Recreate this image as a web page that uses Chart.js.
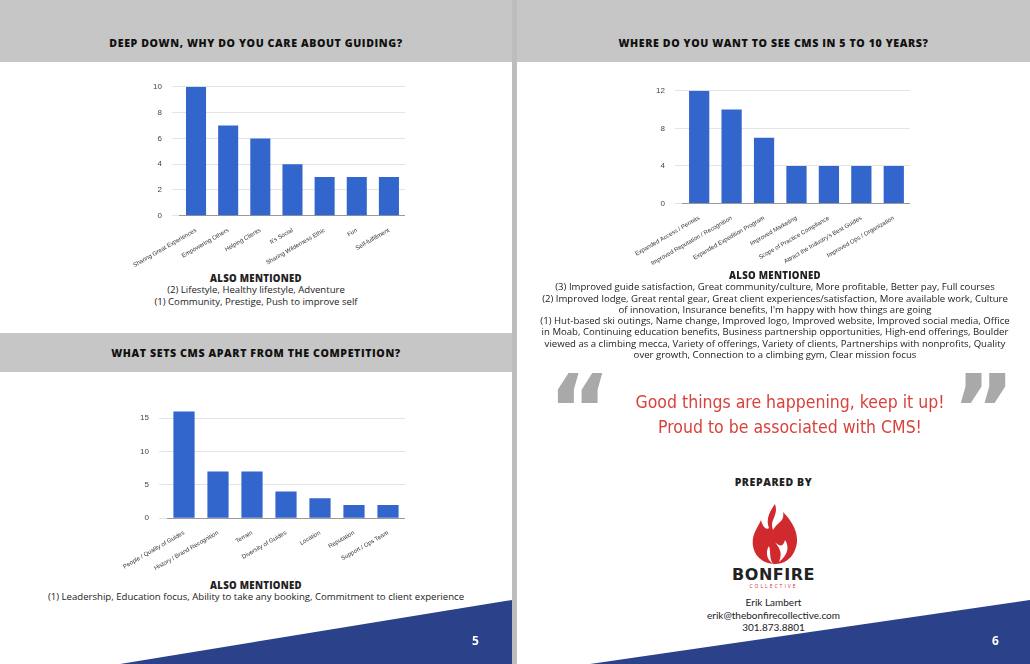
<!DOCTYPE html>
<html><head><meta charset="utf-8">
<script src="https://cdn.jsdelivr.net/npm/chart.js@4"></script>
<style>
body{margin:0;width:1030px;height:664px;position:relative;overflow:hidden;background:#fff;font-family:"Open Sans",sans-serif;color:#222}
.abs{position:absolute}
.hdr{position:absolute;background:#c6c6c6;font-family:"Open Sans";font-weight:800;font-size:10.6px;letter-spacing:0.6px;text-align:center;color:#111}
.txt{position:absolute;font-size:9.6px;text-align:center;line-height:11.3px}
.txt b{font-weight:800;letter-spacing:0.3px}
canvas{position:absolute}
</style></head><body>
<div class="abs" style="left:512px;top:0;width:5px;height:664px;background:#bdbdbd"></div>
<div class="hdr" style="left:0;top:0;width:512px;height:62px;line-height:86px">DEEP DOWN, WHY DO YOU CARE ABOUT GUIDING?</div>
<div class="hdr" style="left:517px;top:0;width:513px;height:62px;line-height:86px">WHERE DO YOU WANT TO SEE CMS IN 5 TO 10 YEARS?</div>
<div class="hdr" style="left:0;top:333px;width:512px;height:39px;line-height:40px">WHAT SETS CMS APART FROM THE COMPETITION?</div>

<div class="abs" style="left:128px;top:72px;width:277px;height:200px"><canvas id="c1"></canvas></div>
<div class="abs" style="left:630px;top:76px;width:280px;height:194px"><canvas id="c2"></canvas></div>
<div class="abs" style="left:118px;top:390px;width:287px;height:185px"><canvas id="c3"></canvas></div>

<div class="txt" style="left:0;top:273px;width:512px"><b>ALSO MENTIONED</b><br>(2) Lifestyle, Healthy lifestyle, Adventure<br>(1) Community, Prestige, Push to improve self</div>
<div class="txt" style="left:0;top:580px;width:512px"><b>ALSO MENTIONED</b><br>(1) Leadership, Education focus, Ability to take any booking, Commitment to client experience</div>
<div class="txt" style="left:540px;top:270px;width:470px"><b>ALSO MENTIONED</b><br>(3) Improved guide satisfaction, Great community/culture, More profitable, Better pay, Full courses<br>(2) Improved lodge, Great rental gear, Great client experiences/satisfaction, More available work, Culture of innovation, Insurance benefits, I'm happy with how things are going<br>(1) Hut-based ski outings, Name change, Improved logo, Improved website, Improved social media, Office in Moab, Continuing education benefits, Business partnership opportunities, High-end offerings, Boulder viewed as a climbing mecca, Variety of offerings, Variety of clients, Partnerships with nonprofits, Quality over growth, Connection to a climbing gym, Clear mission focus</div>

<div class="abs" style="left:548px;top:362px;font-size:96px;line-height:96px;color:#a9a9a9;font-family:'DejaVu Sans';font-weight:bold">&ldquo;</div>
<div class="abs" style="left:952px;top:362px;font-size:96px;line-height:96px;color:#a9a9a9;font-family:'DejaVu Sans';font-weight:bold">&rdquo;</div>
<div class="abs" style="left:600px;top:390px;width:380px;text-align:center;color:#d8413c;font-family:'DejaVu Sans Condensed','Roboto Condensed','Roboto';font-stretch:condensed;font-size:17.5px;line-height:25px">Good things are happening, keep it up!<br>Proud to be associated with CMS!</div>

<div class="abs" style="left:517px;top:475px;width:513px;text-align:center;font-weight:800;font-size:10.5px;letter-spacing:0.6px">PREPARED BY</div>
<svg class="abs" style="left:745px;top:502px" width="60" height="65" viewBox="0 0 60 65">
<path d="M30 2 C34 14 24 18 28 28 C32 20 40 20 38 10 C48 20 56 34 50 48 C46 58 38 62 30 62 C20 62 10 56 8 44 C6 32 14 24 16 18 C18 26 22 28 24 26 C20 16 26 8 30 2Z" fill="#d02a2f"/>
<path d="M30 40 C34 46 38 50 34 60 C44 52 44 44 40 38 C38 46 34 44 30 40Z M24 44 C20 50 22 58 28 62 C24 56 26 50 24 44Z" fill="#fff"/>
</svg>
<div class="abs" style="left:517px;top:565px;width:513px;text-align:center;font-family:'DejaVu Sans';font-weight:bold;font-size:16px;letter-spacing:0.5px">BONFIRE</div>
<div class="abs" style="left:517px;top:583px;width:513px;text-align:center;font-size:5px;letter-spacing:2px;color:#d02a2f">COLLECTIVE</div>
<div class="abs" style="left:517px;top:596px;width:513px;text-align:center;font-size:10px;line-height:12.5px;font-family:Lato">Erik Lambert<br>erik@thebonfirecollective.com<br>301.873.8801</div>

<svg class="abs" style="left:0;top:0" width="1030" height="664">
<polygon points="120,664 512,600 512,664" fill="#2b418a"/>
<polygon points="590,664 1030,600 1030,664" fill="#2b418a"/>
</svg>
<div class="abs" style="left:472px;top:632px;color:#fff;font-weight:700;font-size:12px">5</div>
<div class="abs" style="left:992px;top:632px;color:#fff;font-weight:700;font-size:12px">6</div>

<script>
const whyLabels = ['Sharing Great Experiences','Empowering Others','Helping Clients',"It's Social",'Sharing Wilderness Ethic','Fun','Self-fulfillment'];
const whyValues = [10, 7, 6, 4, 3, 3, 3];
const futureLabels = ['Expanded Access / Permits','Improved Reputation / Recognition','Expanded Expedition Program','Improved Marketing','Scope of Practice Compliance',"Attract the Industry's Best Guides",'Improved Ops / Organization'];
const futureValues = [12, 10, 7, 4, 4, 4, 4];
const apartLabels = ['People / Quality of Guides','History / Brand Recognition','Terrain','Diversity of Guides','Location','Reputation','Support / Ops Team'];
const apartValues = [16, 7, 7, 4, 3, 2, 2];

function bar(id, labels, values, max, step) {
  new Chart(document.getElementById(id), {
    type: 'bar',
    data: { labels, datasets: [{ data: values, backgroundColor: '#3366cc', categoryPercentage: 0.8, barPercentage: 0.78 }] },
    options: {
      responsive: true, maintainAspectRatio: false, animation: false,
      plugins: { legend: { display: false }, tooltip: { enabled: false } },
      scales: {
        x: { grid: { display: false }, border: { color: '#999' },
             ticks: { font: { family: 'Arial', size: 6 }, color: '#333', minRotation: 30, maxRotation: 30, autoSkip: false } },
        y: { min: 0, max: max, border: { display: false },
             grid: { color: c => c.tick && c.tick.value % step === 0 ? '#e4e4e4' : 'rgba(0,0,0,0)' },
             ticks: { stepSize: 1, autoSkip: false, font: { family: 'Arial', size: 8 }, color: '#444', padding: 10,
                      callback: v => v % step === 0 ? v : '' } }
      }
    }
  });
}
bar('c1', whyLabels, whyValues, 10, 2);
bar('c2', futureLabels, futureValues, 12, 4);
bar('c3', apartLabels, apartValues, 17, 5);
</script>
</body></html>
